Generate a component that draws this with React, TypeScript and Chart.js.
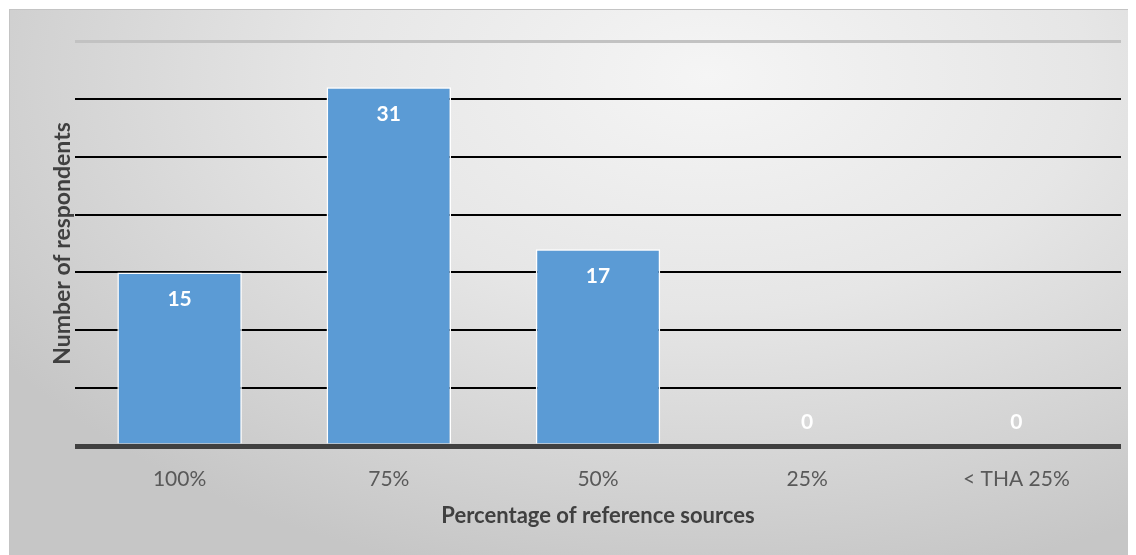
import React, { useEffect, useRef } from "react";
import { Chart, registerables } from "chart.js";

Chart.register(...registerables);

// Survey results: share of reference sources used
const categories = ["100%", "75%", "50%", "25%", "< THA 25%"];
const respondents = [15, 31, 17, 0, 0];
const yMin = 0;
const yMax = 35;
const yStep = 5;

const FONT = "Lato, 'Open Sans', sans-serif";

// Writes each bar's value in white just inside its top edge
const valueLabels = {
  id: "valueLabels",
  afterDatasetsDraw(chart: any) {
    const { ctx } = chart;
    const meta = chart.getDatasetMeta(0);
    const base = chart.scales.y.getPixelForValue(0);
    ctx.save();
    ctx.fillStyle = "#ffffff";
    ctx.font = `bold 21px ${FONT}`;
    ctx.textAlign = "center";
    ctx.textBaseline = "middle";
    meta.data.forEach((bar: any, i: number) => {
      const y = Math.min(bar.y + 27, base - 24);
      ctx.fillText(String(respondents[i]), bar.x, y);
    });
    ctx.restore();
  },
};

export default function App() {
  const canvasRef = useRef<HTMLCanvasElement | null>(null);

  useEffect(() => {
    if (!canvasRef.current) return;
    const chart = new Chart(canvasRef.current, {
      type: "bar",
      data: {
        labels: categories,
        datasets: [
          {
            data: respondents,
            backgroundColor: "#5b9bd5",
            borderColor: "#ffffff",
            borderWidth: 1.5,
            borderSkipped: "start",
            barPercentage: 0.595,
            categoryPercentage: 1,
          },
        ],
      },
      options: {
        animation: false,
        responsive: false,
        maintainAspectRatio: false,
        layout: { padding: { top: 31, right: 16, left: 0, bottom: 0 } },
        plugins: {
          legend: { display: false },
          tooltip: { enabled: false },
        },
        scales: {
          x: {
            grid: { display: false, drawTicks: false },
            border: { display: false },
            ticks: {
              color: "#595959",
              font: { family: FONT, size: 21 },
              padding: 21,
            },
            title: {
              display: true,
              text: "Percentage of reference sources",
              color: "#404040",
              font: { family: FONT, size: 22, weight: "bold" },
              padding: { top: 0, bottom: 27 },
            },
            afterFit: (scale: any) => {
              scale.height = 110;
            },
          },
          y: {
            min: yMin,
            max: yMax,
            ticks: { stepSize: yStep, display: false },
            border: { display: false },
            grid: {
              drawTicks: false,
              color: (c: any) =>
                c.tick.value === yMin ? "#404040" : c.tick.value === yMax ? "#c2c2c2" : "#000000",
              lineWidth: (c: any) =>
                c.tick.value === yMin ? 5 : c.tick.value === yMax ? 3 : 2,
            },
            title: {
              display: true,
              text: "Number of respondents",
              color: "#404040",
              font: { family: FONT, size: 23, weight: "bold" },
              padding: { top: 39, bottom: 0 },
            },
            afterFit: (scale: any) => {
              scale.width = 65;
            },
          },
        },
      },
      plugins: [valueLabels],
    });
    return () => chart.destroy();
  }, []);

  return (
    <div
      style={{
        position: "relative",
        width: 1127,
        height: 546,
        marginLeft: 1,
        marginTop: 1,
        borderTop: "1px solid #c4c4c4",
        borderLeft: "1px solid #c4c4c4",
        background:
          "radial-gradient(ellipse 75% 95% at 62% 12%, #f5f5f5 0%, #e6e6e6 45%, #d2d2d2 80%, #c6c6c6 100%)",
      }}
    >
      <canvas ref={canvasRef} width={1127} height={546} style={{ display: "block" }} />
    </div>
  );
}
